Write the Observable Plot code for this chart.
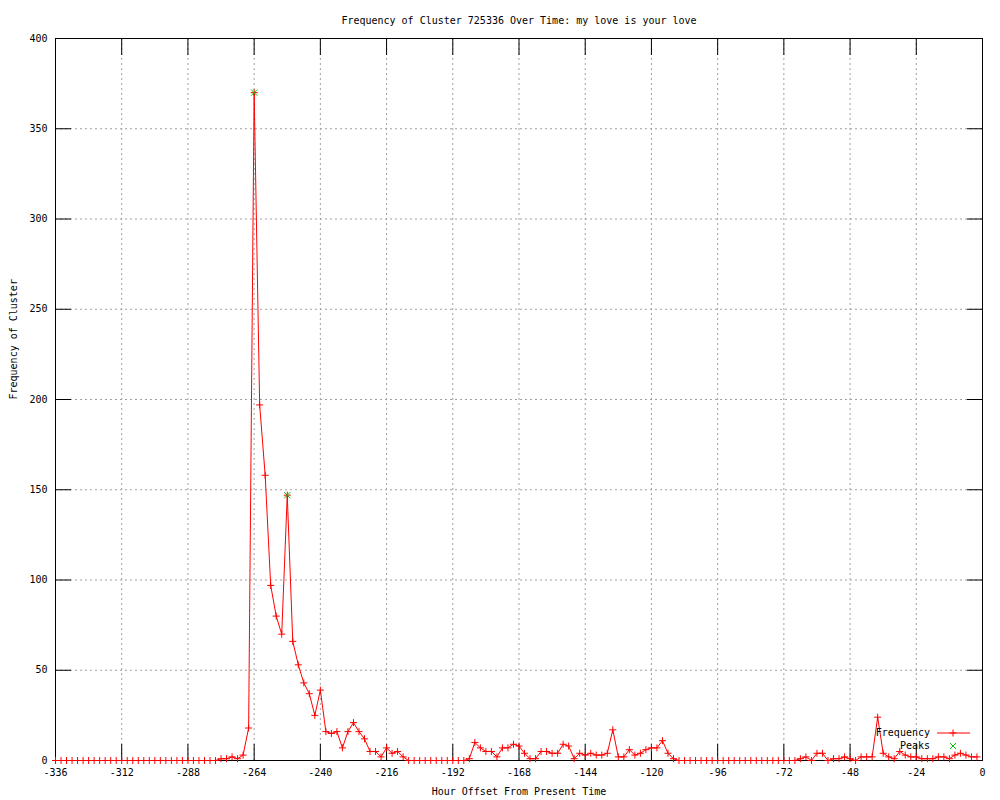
<!DOCTYPE html>
<html>
<head>
<meta charset="utf-8">
<script src="https://cdn.jsdelivr.net/npm/d3@7"></script>
<script src="https://cdn.jsdelivr.net/npm/@observablehq/plot@0.6"></script>
<style>
  html, body { margin: 0; padding: 0; background: #ffffff; }
  #chart svg { display: block; }
</style>
</head>
<body>
<div id="chart"></div>
<script>
// ---- Data ----
const titleText = "Frequency of Cluster 725336 Over Time: my love is your love";
const xLabelText = "Hour Offset From Present Time";
const yLabelText = "Frequency of Cluster";
const legendLabels = ["Frequency", "Peaks"];

// samples every 2 hours, from -336 to -2
const hourStart = -336;
const hourStep = 2;
const freq = [
  // -336 .. -278
  0,0,0,0,0,0,0,0,0,0, 0,0,0,0,0,0,0,0,0,0, 0,0,0,0,0,0,0,0,0,0,
  // -276 .. -210
  1,1,2,1,3,18,370,197,158,97,80,70,147,66,53,43,37,25,39,16,15,16,7,16,21,16,12,5,5,2,7,4,5,2,
  // -208 .. -188
  0,0,0,0,0,0,0,0,0,0,0,
  // -186 .. -112
  1,10,7,5,5,2,7,7,9,8,4,1,1,5,5,4,4,9,8,1,4,3,4,3,3,4,17,2,2,6,3,4,6,7,7,11,4,1,
  // -110 .. -68
  0,0,0,0,0,0,0,0,0,0,0, 0,0,0,0,0,0,0,0,0,0,0,
  // -66 .. -2
  1,2,0,4,4,0,1,1,2,1,0,2,2,2,24,4,2,1,5,3,2,2,1,1,1,2,2,1,3,4,3,2,2
];
const peakHours = [-264, -252];
const peakFreq = [370, 147];

const xTicks = [-336, -312, -288, -264, -240, -216, -192, -168, -144, -120, -96, -72, -48, -24, 0];
const yTicks = [0, 50, 100, 150, 200, 250, 300, 350, 400];

// ---- Tables ----
const series = freq.map((v, i) => ({hour: hourStart + i * hourStep, freq: v}));
const peaks = peakHours.map((h, i) => ({hour: h, freq: peakFreq[i]}));

const red = "#ff0000";
const green = "#00c000";
const gridStyle = {stroke: "#a0a0a0", strokeOpacity: 1, strokeWidth: 1, strokeDasharray: "2,3"};

const svg = Plot.plot({
  width: 1000,
  height: 800,
  marginLeft: 55,
  marginRight: 18,
  marginTop: 38,
  marginBottom: 40,
  style: {fontFamily: "'DejaVu Sans Mono', monospace", fontSize: "10px", background: "#ffffff", color: "#000000"},
  x: {domain: [-336, 0]},
  y: {domain: [0, 400]},
  marks: [
    Plot.gridX(xTicks.slice(1, -1), gridStyle),
    Plot.gridY(yTicks.slice(1, -1), gridStyle),
    // inward tick marks on all four sides
    Plot.axisX(xTicks, {anchor: "bottom", tickSize: -16, fill: "none", label: null}),
    Plot.axisX(xTicks, {anchor: "top", tickSize: -16, fill: "none", label: null}),
    Plot.axisY(yTicks, {anchor: "left", tickSize: -16, fill: "none", label: null}),
    Plot.axisY(yTicks, {anchor: "right", tickSize: -16, fill: "none", label: null}),
    // tick labels
    Plot.axisX(xTicks, {anchor: "bottom", tickSize: 0, tickPadding: 8, tickFormat: d => String(d), label: null}),
    Plot.axisY(yTicks, {anchor: "left", tickSize: 0, tickPadding: 8, tickFormat: d => String(d), label: null}),
    Plot.line(series, {x: "hour", y: "freq", stroke: red, strokeWidth: 1}),
    Plot.frame({stroke: "#000000", strokeWidth: 1}),
    Plot.dot(series, {x: "hour", y: "freq", symbol: "plus", r: 2.4, stroke: red, fill: "none", strokeWidth: 1}),
    Plot.dot(peaks, {x: "hour", y: "freq", symbol: "times", r: 2.9, stroke: green, fill: "none", strokeWidth: 1}),
    // titles
    Plot.text([titleText], {text: d => d, frameAnchor: "top", dy: -22, fill: "#000000"}),
    Plot.text([xLabelText], {text: d => d, frameAnchor: "bottom", dy: 34, fill: "#000000"}),
    Plot.text([yLabelText], {text: d => d, frameAnchor: "left", dx: -42, rotate: -90, fill: "#000000"})
  ]
});

// ---- Legend (inside the plot, bottom-right, like gnuplot's key) ----
const s = d3.select(svg);
const lg = s.append("g")
  .attr("font-family", "'DejaVu Sans Mono', monospace")
  .attr("font-size", 10);
const keyTextX = 930, keySampleX1 = 937, keySampleX2 = 970, keySymX = 953;
const keyRows = [733, 746];
lg.append("text").attr("x", keyTextX).attr("y", keyRows[0]).attr("dy", "0.32em")
  .attr("text-anchor", "end").attr("fill", "#000").text(legendLabels[0]);
lg.append("line").attr("x1", keySampleX1).attr("x2", keySampleX2)
  .attr("y1", keyRows[0]).attr("y2", keyRows[0]).attr("stroke", red);
lg.append("path").attr("transform", `translate(${keySymX},${keyRows[0]})`)
  .attr("d", "M-3.5,0H3.5M0,-3.5V3.5").attr("stroke", red).attr("fill", "none");
lg.append("text").attr("x", keyTextX).attr("y", keyRows[1]).attr("dy", "0.32em")
  .attr("text-anchor", "end").attr("fill", "#000").text(legendLabels[1]);
lg.append("path").attr("transform", `translate(${keySymX},${keyRows[1]})`)
  .attr("d", "M-3,-3L3,3M-3,3L3,-3").attr("stroke", green).attr("fill", "none");

document.getElementById("chart").appendChild(svg);
</script>
</body>
</html>
